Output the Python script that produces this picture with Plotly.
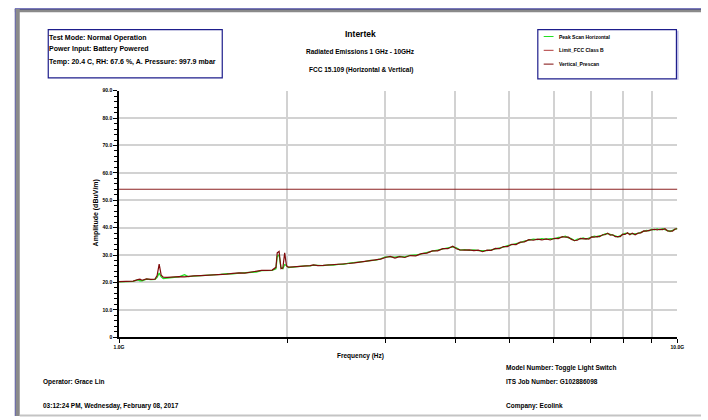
import plotly.graph_objects as go

# ---------------- data ----------------
freq_ghz = [1.00, 1.02, 1.04, 1.06, 1.08, 1.09, 1.10, 1.12, 1.14, 1.16, 1.17, 1.18, 1.19, 1.20,
            1.22, 1.25, 1.28, 1.31, 1.33, 1.36, 1.40, 1.44, 1.48, 1.52, 1.56, 1.60, 1.64, 1.68,
            1.72, 1.76, 1.80, 1.84, 1.88, 1.91, 1.92, 1.935, 1.95, 1.965, 1.98, 1.995, 2.01, 2.05,
            2.10, 2.15, 2.20, 2.23, 2.27, 2.32, 2.37, 2.42, 2.47, 2.52, 2.58, 2.64, 2.70, 2.76,
            2.82, 2.88, 2.94,
            3.00, 3.06, 3.12, 3.18, 3.25, 3.32, 3.40, 3.48, 3.56, 3.64, 3.72, 3.80, 3.88, 3.96,
            4.02, 4.08, 4.16, 4.24, 4.32, 4.40, 4.48, 4.56, 4.64, 4.72, 4.80, 4.88, 4.96,
            5.05, 5.14, 5.23, 5.32, 5.42, 5.52, 5.62, 5.72, 5.82, 5.92,
            6.02, 6.12, 6.22, 6.30, 6.38, 6.46, 6.54, 6.62, 6.70, 6.78, 6.86, 6.94,
            7.02, 7.10, 7.18, 7.26, 7.34, 7.42, 7.50, 7.58, 7.66, 7.74, 7.82, 7.90, 7.98,
            8.06, 8.14, 8.22, 8.30, 8.40, 8.50, 8.60, 8.70, 8.80, 8.90,
            9.00, 9.10, 9.20, 9.30, 9.40, 9.50, 9.60, 9.70, 9.80, 9.90, 10.00]

vertical_prescan = [20.3, 20.3, 20.4, 20.5, 21.0, 21.2, 20.8, 21.3, 21.1, 21.2, 22.5, 26.7, 22.6, 21.9,
                    21.8, 22.0, 22.1, 22.0, 22.2, 22.4, 22.5, 22.6, 22.8, 23.0, 23.0, 23.3, 23.5, 23.4,
                    23.7, 23.9, 24.4, 24.4, 24.5, 25.5, 30.8, 31.3, 25.0, 25.2, 30.8, 26.0, 25.6, 25.7,
                    25.8, 25.9, 26.1, 26.4, 26.1, 26.2, 26.3, 26.4, 26.5, 26.7, 26.9, 27.1, 27.4, 27.6,
                    27.9, 28.2, 28.5,
                    29.1, 29.5, 28.9, 29.4, 29.1, 29.8, 29.7, 30.5, 30.7, 31.5, 31.5, 32.3, 32.3, 33.2,
                    32.3, 31.9, 31.8, 31.9, 31.6, 31.8, 31.2, 31.8, 31.7, 32.4, 32.3, 33.1, 33.1,
                    33.9, 33.8, 34.7, 34.8, 35.6, 35.4, 35.8, 35.5, 35.9, 35.5,
                    36.1, 36.0, 36.7, 36.5, 36.5, 35.7, 35.3, 35.4, 36.1, 35.9, 36.0, 35.8,
                    36.6, 36.5, 36.8, 36.7, 37.4, 37.4, 38.0, 37.3, 37.4, 36.7, 36.8, 36.7, 37.6,
                    37.5, 38.1, 37.4, 38.0, 37.4, 38.0, 38.1, 38.8, 38.7, 39.0,
                    39.1, 39.4, 39.2, 39.4, 39.3, 39.6, 38.8, 38.8, 38.7, 39.5, 39.6]

peak_scan_horizontal = [20.2, 20.2, 20.3, 20.4, 20.9, 20.6, 20.6, 21.2, 21.0, 21.1, 21.8, 23.4, 22.0, 21.4,
                        21.6, 21.9, 22.0, 22.8, 22.1, 22.3, 22.4, 22.7, 22.7, 22.9, 23.2, 23.1, 23.4, 23.6,
                        23.6, 23.8, 24.3, 24.3, 24.4, 25.0, 29.5, 30.0, 25.5, 25.0, 26.5, 26.2, 25.4, 25.6,
                        25.9, 26.0, 26.0, 26.3, 26.2, 26.1, 26.4, 26.3, 26.6, 26.6, 27.0, 27.2, 27.3, 27.7,
                        28.0, 28.1, 28.6,
                        29.3, 29.3, 29.2, 29.5, 29.3, 29.9, 30.0, 30.4, 31.0, 31.4, 31.8, 32.1, 32.6, 33.0,
                        32.6, 31.8, 32.0, 31.7, 31.9, 31.6, 31.5, 31.6, 31.9, 32.2, 32.6, 32.9, 33.4,
                        33.7, 34.2, 34.5, 35.1, 35.4, 35.8, 35.6, 36.0, 35.7, 36.0,
                        35.9, 36.4, 36.5, 36.9, 36.3, 36.0, 35.2, 35.8, 35.9, 36.2, 35.8, 36.2,
                        36.4, 36.9, 36.6, 37.1, 37.2, 37.7, 37.8, 37.6, 37.2, 37.0, 36.6, 37.1, 37.4,
                        37.9, 37.9, 37.7, 37.8, 37.7, 37.9, 38.4, 38.6, 39.0, 38.8,
                        39.4, 39.2, 39.5, 39.2, 39.6, 39.3, 39.1, 38.6, 39.0, 39.3, 39.7]

limit_freq_ghz = [1.0, 10.0]
limit_fcc_class_b = [54.0, 54.0]

y_tick_vals = [0, 10, 20, 30, 40, 50, 60, 70, 80, 90]
y_tick_text = ["0", "10.0", "20.0", "30.0", "40.0", "50.0", "60.0", "70.0", "80.0", "90.0"]
x_tick_vals = [1, 2, 3, 4, 5, 6, 7, 8, 9, 10]
x_tick_text = ["1.0G", "", "", "", "", "", "", "", "", "10.0G"]

info_lines = ["Test Mode: Normal Operation",
              "Power Input: Battery Powered",
              "Temp: 20.4 C, RH: 67.6 %, A. Pressure: 997.9 mbar"]
title_lines = ["Intertek", "Radiated Emissions 1 GHz - 10GHz", "FCC 15.109 (Horizontal & Vertical)"]
legend_names = ["Peak Scan Horizontal", "Limit_FCC Class B", "Vertical_Prescan"]

# ---------------- styling ----------------
W, H = 708, 420
GREEN = "#22e022"
LIMIT = "#8c2222"
VERT = "#7e0a0a"
BLUE = "#1e1e8c"
FONT = "Liberation Sans"

def px(x):
    return x / W

def py(y):
    return 1 - y / H

fig = go.Figure()
fig.add_trace(go.Scatter(x=freq_ghz, y=peak_scan_horizontal, mode="lines",
                         line=dict(color=GREEN, width=1.3), name=legend_names[0]))
fig.add_trace(go.Scatter(x=limit_freq_ghz, y=limit_fcc_class_b, mode="lines",
                         line=dict(color=LIMIT, width=1.1), name=legend_names[1]))
fig.add_trace(go.Scatter(x=freq_ghz, y=vertical_prescan, mode="lines",
                         line=dict(color=VERT, width=1.2), name=legend_names[2]))

shapes = []
# page frame
shapes.append(dict(type="rect", xref="paper", yref="paper", x0=px(10), x1=px(708), y0=py(6), y1=py(9.5),
                   fillcolor="#8a8a8a", line=dict(width=0)))
shapes.append(dict(type="line", xref="paper", yref="paper", x0=px(10), x1=px(708), y0=py(6), y1=py(6),
                   line=dict(color=BLUE, width=1)))
shapes.append(dict(type="rect", xref="paper", yref="paper", x0=px(10), x1=px(15), y0=py(6), y1=py(419),
                   fillcolor="#8a8a8a", line=dict(width=0)))
shapes.append(dict(type="line", xref="paper", yref="paper", x0=px(10.5), x1=px(10.5), y0=py(6), y1=py(419),
                   line=dict(color="#6a6ab0", width=1)))
shapes.append(dict(type="line", xref="paper", yref="paper", x0=px(15), x1=px(708), y0=py(418.5), y1=py(418.5),
                   line=dict(color="#c4c4c4", width=2)))
# info box
shapes.append(dict(type="rect", xref="paper", yref="paper", x0=px(44), x1=px(221), y0=py(27), y1=py(76),
                   line=dict(color=BLUE, width=1.2), fillcolor="rgba(0,0,0,0)"))
# legend box
shapes.append(dict(type="rect", xref="paper", yref="paper", x0=px(542), x1=px(683), y0=py(27), y1=py(77),
                   line=dict(color=BLUE, width=1.2), fillcolor="rgba(0,0,0,0)"))
shapes.append(dict(type="line", xref="paper", yref="paper", x0=px(684.5), x1=px(684.5), y0=py(28), y1=py(78),
                   line=dict(color="#9a9ad8", width=1)))
leg_colors = [GREEN, "#b03a3a", VERT]
leg_y = [34, 48, 62]
for c, yy in zip(leg_colors, leg_y):
    shapes.append(dict(type="line", xref="paper", yref="paper", x0=px(548), x1=px(558), y0=py(yy), y1=py(yy),
                       line=dict(color=c, width=1)))

annotations = []
for t, yy in zip(info_lines, [35, 47, 60]):
    annotations.append(dict(text="<b>%s</b>" % t, x=px(43), y=py(yy), xref="paper", yref="paper",
                            xanchor="left", yanchor="middle", showarrow=False,
                            font=dict(family=FONT, size=7, color="#000")))
for t, yy, s in zip(title_lines, [31, 49, 68], [8.5, 6.5, 6.5]):
    annotations.append(dict(text="<b>%s</b>" % t, x=px(362), y=py(yy), xref="paper", yref="paper",
                            xanchor="center", yanchor="middle", showarrow=False,
                            font=dict(family=FONT, size=s, color="#000")))
for t, yy in zip(legend_names, leg_y):
    annotations.append(dict(text="<b>%s</b>" % t, x=px(562), y=py(yy), xref="paper", yref="paper",
                            xanchor="left", yanchor="middle", showarrow=False,
                            font=dict(family=FONT, size=5, color="#000")))
bottom = [("Frequency (Hz)", 362, 358, "center"),
          ("Model Number: Toggle Light Switch", 508, 370, "left"),
          ("Operator: Grace Lin", 37, 384, "left"),
          ("ITS Job Number: G102886098", 508, 384, "left"),
          ("03:12:24 PM, Wednesday, February 08, 2017", 37, 409, "left"),
          ("Company: Ecolink", 508, 409, "left")]
for t, xx, yy, anc in bottom:
    annotations.append(dict(text="<b>%s</b>" % t, x=px(xx), y=py(yy), xref="paper", yref="paper",
                            xanchor=anc, yanchor="middle", showarrow=False,
                            font=dict(family=FONT, size=6.5, color="#000")))
annotations.append(dict(text="<b>Amplitude (dBuV/m)</b>", x=px(93), y=py(213), xref="paper", yref="paper",
                        xanchor="center", yanchor="middle", showarrow=False, textangle=-90,
                        font=dict(family=FONT, size=7, color="#000")))

fig.update_layout(
    width=W, height=H,
    margin=dict(l=0, r=0, t=0, b=0),
    paper_bgcolor="white", plot_bgcolor="white",
    showlegend=False,
    shapes=shapes, annotations=annotations,
    xaxis=dict(type="log", range=[0, 1], domain=[px(116), px(684)],
               tickmode="array", tickvals=x_tick_vals, ticktext=["<b>%s</b>" % t if t else "" for t in x_tick_text],
               showgrid=True, gridcolor="#d2d2d2", gridwidth=1.5,
               showline=True, linecolor="#000", linewidth=1.5,
               ticks="outside", ticklen=4, tickcolor="#000", tickwidth=1,
               tickfont=dict(family=FONT, size=5, color="#000"), zeroline=False),
    yaxis=dict(range=[0, 90], domain=[py(339), py(89)],
               tickmode="array", tickvals=y_tick_vals, ticktext=["<b>%s</b>" % t for t in y_tick_text],
               showgrid=True, gridcolor="#d2d2d2", gridwidth=1.5,
               showline=True, linecolor="#000", linewidth=1.5,
               ticks="outside", ticklen=4, tickcolor="#000", tickwidth=1,
               minor=dict(dtick=2, ticks="outside", ticklen=3, tickcolor="#000", showgrid=False),
               tickfont=dict(family=FONT, size=5, color="#000"), zeroline=False),
)

fig.write_html("out.html", config={"displayModeBar": False},
               post_script="document.body.style.margin='0';document.body.style.overflow='hidden';")
